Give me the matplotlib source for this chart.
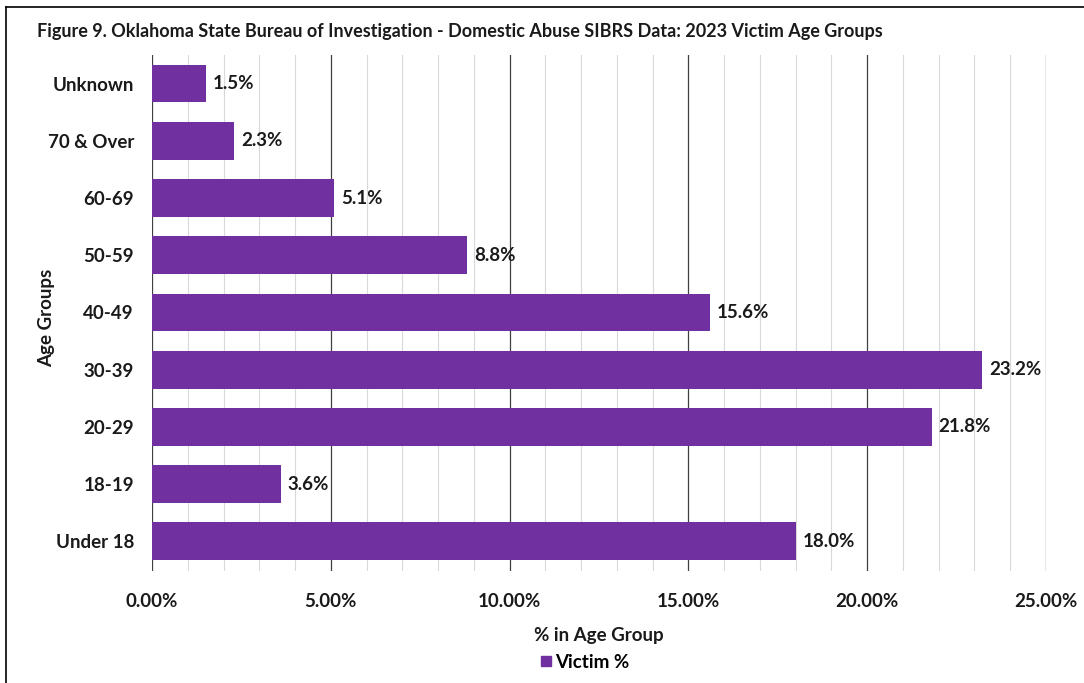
import matplotlib.pyplot as plt
from matplotlib.lines import Line2D
from matplotlib.ticker import MultipleLocator, FuncFormatter

plt.rcParams['font.family'] = ['Lato', 'DejaVu Sans']

# Victim share by age group, bottom to top
age_groups = ["Under 18", "18-19", "20-29", "30-39", "40-49", "50-59", "60-69", "70 & Over", "Unknown"]
victim_pct = [18.0, 3.6, 21.8, 23.2, 15.6, 8.8, 5.1, 2.3, 1.5]

bar_color = "#7030A0"
text_color = "#1a1a1a"
fs = 13.5

fig = plt.figure(figsize=(10.84, 6.83), dpi=100)
ax = fig.add_axes([152 / 1084, 1 - 571 / 683, (1046 - 152) / 1084, (571 - 55) / 683])

ypos = range(len(age_groups))
ax.barh(ypos, victim_pct, height=0.66, color=bar_color, zorder=3, label="Victim %")

for y, v in zip(ypos, victim_pct):
    ax.text(v + 0.2, y, f"{v:.1f}%", va="center", ha="left",
            fontsize=fs, fontweight="bold", color=text_color, zorder=4)

ax.set_xlim(0, 25)
ax.set_ylim(-0.52, 8.5)
ax.xaxis.set_major_locator(MultipleLocator(5))
ax.xaxis.set_minor_locator(MultipleLocator(1))
ax.xaxis.set_major_formatter(FuncFormatter(lambda x, _: f"{x:.2f}%"))
ax.grid(axis="x", which="major", color="#404040", linewidth=0.9, zorder=0)
ax.grid(axis="x", which="minor", color="#d9d9d9", linewidth=0.8, zorder=0)
ax.set_yticks(list(ypos))
ax.set_yticklabels(age_groups)
ax.tick_params(axis="both", which="both", length=0)
ax.tick_params(axis="x", pad=16, labelsize=fs)
ax.tick_params(axis="y", pad=13, labelsize=fs)
for lab in ax.get_xticklabels() + ax.get_yticklabels():
    lab.set_fontweight("bold")
    lab.set_color(text_color)
for s in ax.spines.values():
    s.set_visible(False)

ax.set_xlabel("% in Age Group", fontsize=fs, fontweight="bold", labelpad=12, color=text_color)
ax.set_ylabel("Age Groups", fontsize=fs, fontweight="bold", color=text_color)
ax.yaxis.set_label_coords(-0.108, 0.49)

fig.text(37 / 1084, 1 - 32 / 683,
         "Figure 9. Oklahoma State Bureau of Investigation - Domestic Abuse SIBRS Data: 2023 Victim Age Groups",
         fontsize=13, fontweight="bold", va="center", ha="left", color=text_color)

fig.legend(handles=[Line2D([], [], marker="s", linestyle="none", markersize=7,
                           color=bar_color, label="Victim %")],
           loc="center", bbox_to_anchor=(583 / 1084, 1 - 662 / 683), frameon=False,
           prop={"size": fs, "weight": "bold"}, handletextpad=0.0, handlelength=1.0,
           borderaxespad=0)

# Outer frame: top and left edges
fig.add_artist(Line2D([6 / 1084, 6 / 1084], [0, 1 - 7 / 683], transform=fig.transFigure,
                      color="black", linewidth=1.2))
fig.add_artist(Line2D([6 / 1084, 1], [1 - 7 / 683, 1 - 7 / 683], transform=fig.transFigure,
                      color="black", linewidth=1.2))

fig.savefig("out.png", dpi=100)
